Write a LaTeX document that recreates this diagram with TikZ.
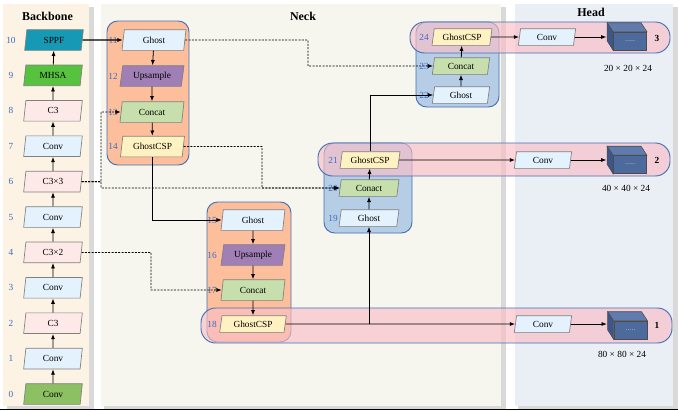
\documentclass[tikz,border=0pt]{standalone}
\usepackage{fontspec}
\setmainfont{Liberation Serif}
\usetikzlibrary{shapes.geometric,arrows.meta}

\definecolor{bbpanel}{RGB}{253,243,229}
\definecolor{nkpanel}{RGB}{246,246,239}
\definecolor{hdpanel}{RGB}{234,238,245}
\definecolor{cconv}{RGB}{227,242,253}
\definecolor{cthree}{RGB}{253,233,232}
\definecolor{csppf}{RGB}{22,153,180}
\definecolor{cmhsa}{RGB}{86,194,61}
\definecolor{cstem}{RGB}{141,192,99}
\definecolor{cups}{RGB}{160,127,182}
\definecolor{ccat}{RGB}{198,223,172}
\definecolor{ccsp}{RGB}{255,242,194}
\definecolor{corange}{RGB}{253,191,155}
\definecolor{cbluebox}{RGB}{182,205,230}
\definecolor{cband}{RGB}{249,190,198}
\definecolor{cedge}{RGB}{68,112,182}
\definecolor{numcol}{RGB}{58,108,196}
\definecolor{cubefront}{RGB}{77,106,156}
\definecolor{cubetop}{RGB}{96,123,173}
\definecolor{cubeleft}{RGB}{60,87,135}

\tikzset{every picture/.style={line width=0.6pt}}
\tikzset{
  blk/.style={trapezium, trapezium left angle=76, trapezium right angle=104,
    trapezium stretches body, draw={rgb,255:red,128;green,128;blue,128}, line width=0.5pt,
    minimum width=44pt, minimum height=15.5pt, inner sep=1pt, font=\fontsize{7}{8}\selectfont},
  wblk/.style={blk, minimum width=48pt},
  sblk/.style={blk, minimum width=45pt, minimum height=12.5pt},
  num/.style={text=numcol, font=\fontsize{7}{8}\selectfont},
  ttl/.style={font=\bfseries\fontsize{9}{10}\selectfont},
  grp/.style={draw=cedge, line width=0.7pt, rounded corners=8pt},
  band/.style={draw=cedge, line width=0.7pt, fill=cband, fill opacity=0.65, rounded corners=11pt},
  cube/.style={draw=black!70, line width=0.4pt, fill=cubefront, minimum width=25pt, minimum height=13.5pt,
    inner sep=0pt, text=black!25, font=\fontsize{6}{6}\selectfont},
  dims/.style={font=\fontsize{7}{8}\selectfont},
  arr/.style={-{Latex[length=4pt,width=3pt]}},
  darr/.style={arr, dash pattern=on 1.5pt off 1pt}
}

\begin{document}
\begin{tikzpicture}[x=0.75pt,y=0.75pt,yscale=-1,xscale=1]
\useasboundingbox (0,0) rectangle (678,411);

%Shape: Rectangle [id:panel_backbone]
\fill [black!15] (7,7) rectangle (94,409);
\fill [bbpanel] (3,4) rectangle (89,406);
%Shape: Rectangle [id:panel_neck]
\fill [black!15] (104,7) rectangle (506,409);
\fill [nkpanel] (101,4) rectangle (501,406);
%Shape: Rectangle [id:panel_head]
\fill [black!15] (518,7) rectangle (678,409);
\fill [hdpanel] (515,4) rectangle (673,406);
%Straight Lines [id:bottom_rule]
\draw [line width=1pt] (0,409.5) -- (678,409.5);

\node [ttl] (tbb) at (47.5,16) {Backbone};
\node [ttl] (tnk) at (303,16) {Neck};
\node [ttl] (thd) at (591,12) {Head};

%Shape: Rounded Rect [id:grp_a]
\draw [grp, fill=corange] (107,21) rectangle (189,165);
%Shape: Rounded Rect [id:grp_b]
\draw [grp, fill=corange] (207,202) rectangle (291,342);
%Shape: Rounded Rect [id:grp_c]
\draw [grp, fill=cbluebox] (324,143) rectangle (412,233);
%Shape: Rounded Rect [id:grp_d]
\draw [grp, fill=cbluebox] (416,22) rectangle (499,107);

%Shape: Rounded Rect [id:band_3]
\draw [band] (410,22) rectangle (670,53);
%Shape: Rounded Rect [id:band_2]
\draw [band] (318,143) rectangle (670,176);
%Shape: Rounded Rect [id:band_1]
\draw [band] (201,308) rectangle (672,343);

%Backbone
\node [blk, fill=cstem] (n0) at (53,394) {Conv};
\node [blk, fill=cconv] (n1) at (53,358.6) {Conv};
\node [blk, fill=cthree] (n2) at (53,323.2) {C3};
\node [blk, fill=cconv] (n3) at (53,287.8) {Conv};
\node [blk, fill=cthree] (n4) at (53,252.4) {C3×2};
\node [blk, fill=cconv] (n5) at (53,217) {Conv};
\node [blk, fill=cthree] (n6) at (53,181.6) {C3×3};
\node [blk, fill=cconv] (n7) at (53,146.2) {Conv};
\node [blk, fill=cthree] (n8) at (53,110.8) {C3};
\node [blk, fill=cmhsa] (n9) at (53,75.4) {MHSA};
\node [blk, fill=csppf] (n10) at (54,40) {SPPF};

\node [num] (l0) at (11,394) {0};
\node [num] (l1) at (11,358.6) {1};
\node [num] (l2) at (11,323.2) {2};
\node [num] (l3) at (11,287.8) {3};
\node [num] (l4) at (11,252.4) {4};
\node [num] (l5) at (11,217) {5};
\node [num] (l6) at (11,181.6) {6};
\node [num] (l7) at (11,146.2) {7};
\node [num] (l8) at (11,110.8) {8};
\node [num] (l9) at (11,75.4) {9};
\node [num] (l10) at (11,40) {10};

%Neck
\node [num] (l11) at (113,40) {11};
\node [num] (l12) at (113,76) {12};
\node [num] (l13) at (113,112) {13};
\node [num] (l14) at (113,146.5) {14};
\node [wblk, fill=cconv] (n11) at (154,40) {Ghost};
\node [wblk, fill=cups] (n12) at (152,76) {Upsample};
\node [wblk, fill=ccat] (n13) at (152,112) {Concat};
\node [wblk, fill=ccsp] (n14) at (152.5,146.5) {GhostCSP};

\node [num] (l15) at (212,220) {15};
\node [num] (l16) at (212,255) {16};
\node [num] (l17) at (212,290) {17};
\node [num] (l18) at (212,324) {18};
\node [wblk, fill=cconv] (n15) at (253,220) {Ghost};
\node [wblk, fill=cups] (n16) at (253,255) {Upsample};
\node [wblk, fill=ccat] (n17) at (253,290) {Concat};
\node [sblk, minimum width=50pt, fill=ccsp] (n18) at (253,324) {GhostCSP};

\node [num] (l19) at (333,218) {19};
\node [num] (l20) at (333,188) {20};
\node [num] (l21) at (333,160) {21};
\node [sblk, fill=cconv] (n19) at (369,218) {Ghost};
\node [sblk, fill=ccat] (n20) at (369,188) {Conact};
\node [sblk, fill=ccsp] (n21) at (370,160) {GhostCSP};

\node [num] (l22) at (424,95) {22};
\node [num] (l23) at (424,66) {23};
\node [num] (l24) at (424,37) {24};
\node [sblk, minimum width=43pt, fill=cconv] (n22) at (461,95) {Ghost};
\node [sblk, minimum width=43pt, fill=ccat] (n23) at (461,66) {Concat};
\node [sblk, fill=ccsp] (n24) at (462,37) {GhostCSP};

%Head
\node [sblk, minimum width=43pt, fill=cconv] (conv3) at (547,37) {Conv};
\node [sblk, minimum width=43pt, fill=cconv] (conv2) at (543,160) {Conv};
\node [sblk, minimum width=43pt, fill=cconv] (conv1) at (543,324) {Conv};

\node [cube] (cube3) at (630,41) {.....};
\node [cube] (cube2) at (630,164.5) {.....};
\node [cube] (cube1) at (630.5,330) {.....};
\draw [black!70, line width=0.4pt, fill=cubetop] (cube3.north west) -- ++(-6,-9) -- ++(34,0) -- (cube3.north east) -- cycle;
\draw [black!70, line width=0.4pt, fill=cubeleft] (cube3.north west) -- ++(-6,-9) -- ++(0,18) -- (cube3.south west) -- cycle;
\draw [black!70, line width=0.4pt, fill=cubetop] (cube2.north west) -- ++(-6,-9) -- ++(34,0) -- (cube2.north east) -- cycle;
\draw [black!70, line width=0.4pt, fill=cubeleft] (cube2.north west) -- ++(-6,-9) -- ++(0,18) -- (cube2.south west) -- cycle;
\draw [black!70, line width=0.4pt, fill=cubetop] (cube1.north west) -- ++(-6,-9) -- ++(34,0) -- (cube1.north east) -- cycle;
\draw [black!70, line width=0.4pt, fill=cubeleft] (cube1.north west) -- ++(-6,-9) -- ++(0,18) -- (cube1.south west) -- cycle;

\node [font=\bfseries\fontsize{7}{8}\selectfont] (k3) at (657,38) {3};
\node [font=\bfseries\fontsize{7}{8}\selectfont] (k2) at (657,160) {2};
\node [font=\bfseries\fontsize{7}{8}\selectfont] (k1) at (657,325) {1};
\node [dims] (d3) at (628,68) {20 × 20 × 24};
\node [dims] (d2) at (626,188) {40 × 40 × 24};
\node [dims] (d1) at (622,354) {80 × 80 × 24};

%Connectors backbone
\draw [arr] (n0) -- (n1);
\draw [arr] (n1) -- (n2);
\draw [arr] (n2) -- (n3);
\draw [arr] (n3) -- (n4);
\draw [arr] (n4) -- (n5);
\draw [arr] (n5) -- (n6);
\draw [arr] (n6) -- (n7);
\draw [arr] (n7) -- (n8);
\draw [arr] (n8) -- (n9);
\draw [arr] (n9) -- (n10);

%Connectors neck
\draw [arr, line width=0.9pt] (n10.east) -- (n11.west);
\draw [arr] (n11) -- (n12);
\draw [arr] (n12) -- (n13);
\draw [arr] (n13) -- (n14);
\draw [arr] (n15) -- (n16);
\draw [arr] (n16) -- (n17);
\draw [arr] (n17) -- (n18);
\draw [arr] (n19) -- (n20);
\draw [arr] (n20) -- (n21);
\draw [arr] (n22) -- (n23);
\draw [arr] (n23) -- (n24);

\draw [darr] (n11.east) -- (308,40) |- (n23.west);
\draw [darr] (n6.east) -- (101,181.6) |- (n13.west);
\draw [darr] (n6.east) -- (101,181.6) |- (n20.west);
\draw [darr] (n14.east) -- (262,146.5) |- (n20.west);
\draw [arr] (n14.south) |- (n15.west);
\draw [darr] (n4.east) -- (151,252.4) |- (n17.west);
\draw [arr] (n18.east) -- (conv1.west);
\draw [arr] (n18.east -| n19.south) -- (n19.south);
\draw [arr] (n21.north) |- (n22.west);

%Connectors head
\draw [arr] (n24.east) -- (conv3.west);
\draw [arr] (n21.east) -- (conv2.west);
\draw [arr, shorten >=5pt] (conv3.east) -- (conv3.east -| cube3.west);
\draw [arr, shorten >=5pt] (conv2.east) -- (conv2.east -| cube2.west);
\draw [arr, shorten >=5pt] (conv1.east) -- (conv1.east -| cube1.west);

\end{tikzpicture}
\end{document}
